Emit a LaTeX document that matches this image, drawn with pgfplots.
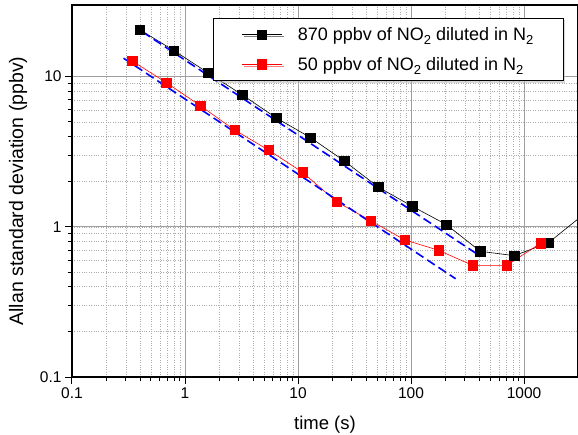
\documentclass[border=0pt]{standalone}
\usepackage{fontspec}
\setmainfont{Liberation Sans}
\usepackage{pgfplots}
\pgfplotsset{compat=1.18}
\usetikzlibrary{shadows}
\newcommand{\sub}[1]{\raisebox{-0.45ex}{\fontsize{13}{14}\selectfont #1}}
\begin{document}
\begin{tikzpicture}
\begin{axis}[
  xmode=log, ymode=log,
  scale only axis, width=506pt, height=372pt,
  xmin=0.1, xmax=3000, ymin=0.1, ymax=30,
  font=\fontsize{15.5}{18}\selectfont,
  /pgf/number format/assume math mode=true,
  xtick={0.1,1,10,100,1000}, xticklabels={0.1,1,10,100,1000},
  ytick={0.1,1,10}, yticklabels={0.1,1,10},
  grid=both,
  major grid style={gray!75, line width=0.8pt},
  minor grid style={gray!65, dotted, line width=0.6pt},
  tick align=outside, tick pos=left,
  major tick length=7pt, minor tick length=4.5pt,
  axis line style={line width=1.2pt},
  every tick/.style={black, line width=1pt},
  xlabel={time (s)}, ylabel={Allan standard deviation (ppbv)},
  xlabel style={at={(axis description cs:0.5,-0.127)}, anchor=center, font=\fontsize{18.5}{22}\selectfont},
  ylabel style={at={(axis description cs:-0.1067,0.5)}, anchor=center, font=\fontsize{19.5}{22}\selectfont},
  legend style={at={(0.972,0.965)}, anchor=north east, draw=black, line width=0.8pt,
    font=\fontsize{18}{21}\selectfont, inner xsep=28pt, inner ysep=7pt, row sep=11pt,
    drop shadow={shadow xshift=2pt, shadow yshift=-2pt, fill=gray!60}},
  legend cell align=left,
  legend image code/.code={
    \draw (0pt,0pt) -- (40pt,0pt);
    \draw plot coordinates {(20pt,0pt)};
  },
]
% data lines with markers
\addplot[black, line width=0.6pt, mark=square*, mark size=4.6pt, mark options={solid}] coordinates {
  (0.4,20.5) (0.8,14.9) (1.6,10.6) (3.2,7.58) (6.4,5.32) (12.8,3.94) (25.6,2.75)
  (51.2,1.84) (102.4,1.37) (204.8,1.036) (409.6,0.687) (819.2,0.643) (1638.4,0.782) (3276.8,1.19)
};
\addlegendentry{\hspace{13.5pt}870 ppbv of NO\sub{2} diluted in N\sub{2}\hspace{-22pt}}
\addplot[red, line width=0.6pt, mark=square*, mark size=4.6pt, mark options={solid}] coordinates {
  (0.342,12.7) (0.684,9.12) (1.368,6.40) (2.736,4.42) (5.47,3.25) (10.94,2.31) (21.9,1.47)
  (43.8,1.10) (87.5,0.819) (175,0.698) (350,0.554) (700,0.554) (1400,0.777)
};
\addlegendentry{\hspace{13.5pt}50 ppbv of NO\sub{2} diluted in N\sub{2}\hspace{-22pt}}
% fit lines
\addplot[blue, line width=1.6pt, dash pattern=on 9pt off 4.5pt, forget plot] coordinates {(0.42,19.9) (386,0.657)};
\addplot[blue, line width=1.6pt, dash pattern=on 9pt off 4.5pt, forget plot] coordinates {(0.286,13.27) (248,0.451)};
% markers on top
\addplot[only marks, black, mark=square*, mark size=4.6pt, forget plot] coordinates {
  (0.4,20.5) (0.8,14.9) (1.6,10.6) (3.2,7.58) (6.4,5.32) (12.8,3.94) (25.6,2.75)
  (51.2,1.84) (102.4,1.37) (204.8,1.036) (409.6,0.687) (819.2,0.643) (1638.4,0.782)
};
\addplot[only marks, red, mark=square*, mark size=4.6pt, forget plot] coordinates {
  (0.342,12.7) (0.684,9.12) (1.368,6.40) (2.736,4.42) (5.47,3.25) (10.94,2.31) (21.9,1.47)
  (43.8,1.10) (87.5,0.819) (175,0.698) (350,0.554) (700,0.554) (1400,0.777)
};
\end{axis}
\pgfresetboundingbox
\path ([xshift=-72pt,yshift=-57pt]current axis.south west) rectangle ([yshift=5pt]current axis.north east);
\end{tikzpicture}
\end{document}
